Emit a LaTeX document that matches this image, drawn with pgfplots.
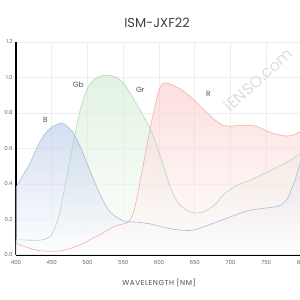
\documentclass[border=0pt]{standalone}
\usepackage{pgfplots}
\pgfplotsset{compat=1.18}
\usepackage{pgfplotstable}
\usepackage{fontspec}
\setmainfont{Poppins}
\definecolor{bline}{HTML}{A9BBDD}
\definecolor{bfill}{HTML}{B8C8E8}
\definecolor{gline}{HTML}{B3D9B3}
\definecolor{gfill}{HTML}{CFEBCF}
\definecolor{rline}{HTML}{F2B0A4}
\definecolor{rfill}{HTML}{F9C6C4}
\definecolor{gridc}{HTML}{EEEEEE}
\definecolor{tickc}{HTML}{666666}
\definecolor{labc}{HTML}{555555}
\definecolor{wm}{HTML}{DDDDDD}

\pgfplotstableread{
x y
400 0.38
410 0.45
420 0.52
430 0.61
440 0.68
450 0.72
460 0.74
465 0.742
470 0.73
480 0.69
490 0.61
500 0.51
510 0.41
520 0.32
530 0.25
540 0.215
550 0.192
560 0.187
570 0.185
580 0.18
590 0.173
600 0.163
610 0.153
620 0.145
630 0.14
640 0.138
650 0.142
660 0.155
670 0.17
680 0.185
690 0.2
700 0.215
710 0.23
720 0.245
730 0.255
740 0.26
750 0.265
760 0.27
770 0.28
780 0.32
790 0.42
800 0.55
}\Bdata

\pgfplotstableread{
x y
400 0.085
410 0.085
420 0.083
430 0.083
440 0.088
450 0.115
460 0.22
470 0.42
480 0.63
490 0.82
500 0.94
510 0.99
520 1.01
530 1.012
540 1.0
550 0.97
560 0.91
570 0.84
580 0.77
590 0.69
600 0.58
610 0.45
620 0.34
630 0.28
640 0.25
650 0.237
660 0.24
670 0.26
680 0.29
690 0.34
700 0.37
710 0.395
720 0.41
730 0.425
740 0.445
750 0.465
760 0.485
770 0.505
780 0.525
790 0.55
800 0.58
}\Gdata

\pgfplotstableread{
x y
400 0.065
410 0.05
420 0.037
430 0.027
440 0.022
450 0.02
460 0.022
470 0.03
480 0.042
490 0.058
500 0.078
510 0.1
520 0.12
530 0.145
540 0.165
550 0.175
555 0.18
560 0.2
565 0.25
570 0.34
580 0.55
590 0.76
600 0.93
605 0.965
610 0.97
620 0.955
630 0.935
640 0.905
650 0.87
660 0.83
670 0.79
680 0.755
690 0.73
700 0.725
710 0.73
720 0.73
730 0.73
740 0.72
750 0.70
760 0.685
770 0.675
780 0.67
790 0.68
800 0.70
}\Rdata

\begin{document}
\begin{tikzpicture}
\begin{axis}[
  at={(16bp,45bp)}, anchor=south west,
  scale only axis, width=286bp, height=213bp,
  xmin=400, xmax=800, ymin=0, ymax=1.2,
  xtick={400,450,...,800}, ytick={0,0.2,0.4,0.6,0.8,1.0,1.2},
  grid=major, grid style={gridc, line width=0.5bp},
  axis x line*=bottom, axis y line*=left,
  axis line style={black, line width=1.4bp},
  tick style={draw=none},
  ticklabel style={font=\fontsize{5.5}{6}\selectfont, text=tickc},
  /pgf/number format/assume math mode=true,
  yticklabel style={/pgf/number format/fixed, /pgf/number format/fixed zerofill, /pgf/number format/precision=1},
  xticklabel style={/pgf/number format/set thousands separator={}, yshift=-2bp},
  every axis plot/.append style={smooth, tension=0.4},
]
\addplot[draw=none, shade, top color=gfill, bottom color=white, fill opacity=0.6] table[x=x,y=y] {\Gdata} \closedcycle;
\addplot[draw=none, shade, top color=bfill, bottom color=white, fill opacity=0.6] table[x=x,y=y] {\Bdata} \closedcycle;
\addplot[draw=none, shade, top color=rfill, bottom color=white, fill opacity=0.55] table[x=x,y=y] {\Rdata} \closedcycle;
\addplot[gline, line width=0.6bp] table[x=x,y=y] {\Gdata};
\addplot[bline, line width=0.6bp] table[x=x,y=y] {\Bdata};
\addplot[rline, line width=0.6bp] table[x=x,y=y] {\Rdata};
\node[text=labc, font=\fontsize{7.5}{8}\selectfont] at (axis cs:441,0.76) {B};
\node[text=labc, font=\fontsize{7.5}{8}\selectfont] at (axis cs:487,0.96) {Gb};
\node[text=labc, font=\fontsize{7.5}{8}\selectfont] at (axis cs:574,0.93) {Gr};
\node[text=labc, font=\fontsize{7.5}{8}\selectfont] at (axis cs:669,0.91) {R};
\node[rotate=42, text=wm, font=\fontsize{16}{16}\selectfont] at (axis cs:739,0.99) {iENSO.com};
\end{axis}
\node[text=black!75, font=\fontsize{13}{15}\selectfont] at (157bp,277bp) {ISM-JXF22};
\node[text=black!70, font=\addfontfeatures{LetterSpace=8}\fontsize{7.2}{8}\selectfont] at (159bp,17bp) {WAVELENGTH [NM]};
\pgfresetboundingbox
\useasboundingbox (0,0) rectangle (300bp,300bp);
\end{tikzpicture}
\end{document}
